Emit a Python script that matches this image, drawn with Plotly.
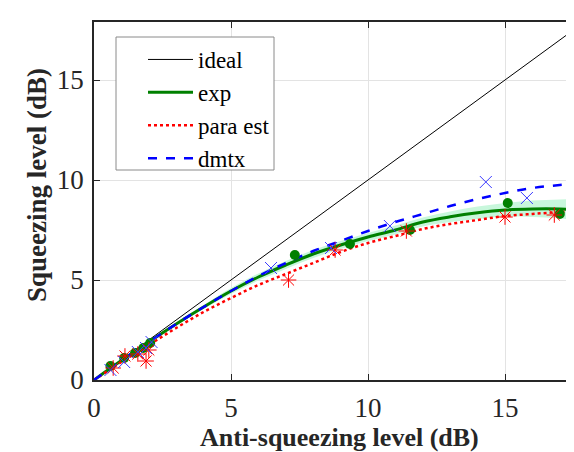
import plotly.graph_objects as go

# ---- data ----
x_curve = [0, 1, 2, 3, 4, 5, 6, 7, 8, 9, 10, 11, 12, 13, 14, 15, 16, 17, 18]
ideal_y = [0, 1, 2, 3, 4, 5, 6, 7, 8, 9, 10, 11, 12, 13, 14, 15, 16, 17, 18]
exp_y = [0, 0.97, 1.9, 2.8, 3.65, 4.45, 5.15, 5.75, 6.3, 6.75, 7.15, 7.5, 7.9, 8.16, 8.36, 8.5, 8.55, 8.55, 8.5]
exp_upper = [0, 1.0, 1.95, 2.88, 3.75, 4.6, 5.33, 5.95, 6.5, 6.95, 7.35, 7.72, 8.12, 8.42, 8.67, 8.85, 8.97, 9.03, 9.05]
exp_lower = [0, 0.94, 1.85, 2.72, 3.55, 4.3, 4.97, 5.55, 6.1, 6.55, 6.95, 7.28, 7.68, 7.9, 8.05, 8.18, 8.15, 8.08, 7.95]
para_y = [0, 0.9, 1.75, 2.6, 3.4, 4.1, 4.75, 5.3, 5.85, 6.4, 6.85, 7.2, 7.55, 7.8, 8.0, 8.2, 8.3, 8.4, 8.45]
dmtx_y = [0, 0.97, 1.9, 2.8, 3.65, 4.45, 5.2, 5.85, 6.45, 6.95, 7.45, 7.9, 8.3, 8.7, 9.05, 9.35, 9.6, 9.75, 9.85]

exp_pts_x = [0.6, 1.1, 1.5, 1.8, 2.05, 7.33, 9.34, 11.53, 15.1, 17.0]
exp_pts_y = [0.7, 1.1, 1.35, 1.6, 1.85, 6.25, 6.8, 7.5, 8.85, 8.3]
para_pts_x = [0.7, 1.13, 1.6, 1.9, 2.0, 7.1, 8.8, 11.4, 15.0, 16.8]
para_pts_y = [0.6, 1.2, 1.3, 0.95, 1.5, 5.0, 6.5, 7.45, 8.15, 8.25]
dmtx_pts_x = [0.6, 1.1, 1.6, 1.9, 2.1, 6.46, 8.65, 10.8, 14.3, 15.8]
dmtx_pts_y = [0.5, 0.9, 1.4, 1.6, 1.9, 5.6, 6.6, 7.7, 9.9, 9.1]

x_ticks = [0, 5, 10, 15]
y_ticks = [0, 5, 10, 15]

GREEN = "#008000"
BAND = "#c8f7dc"
RED = "#ff0000"
BLUE = "#0000ff"
FONT = "Liberation Serif, 'Times New Roman', Times, serif"

fig = go.Figure()

# lines (legend entries, in reference order)
fig.add_trace(go.Scatter(x=x_curve, y=ideal_y, mode="lines", name="ideal",
                         line=dict(color="black", width=1)))

# confidence band for exp
fig.add_trace(go.Scatter(x=x_curve, y=exp_upper, mode="lines", line=dict(width=0), line_shape="spline",
                         showlegend=False, hoverinfo="skip"))
fig.add_trace(go.Scatter(x=x_curve, y=exp_lower, mode="lines", line=dict(width=0), line_shape="spline",
                         fill="tonexty", fillcolor=BAND, showlegend=False, hoverinfo="skip"))

fig.add_trace(go.Scatter(x=x_curve, y=exp_y, mode="lines", name="exp", line_shape="spline",
                         line=dict(color=GREEN, width=3)))
fig.add_trace(go.Scatter(x=x_curve, y=para_y, mode="lines", name="para est", line_shape="spline",
                         line=dict(color=RED, width=2.5, dash="dot")))
fig.add_trace(go.Scatter(x=x_curve, y=dmtx_y, mode="lines", name="dmtx", line_shape="spline",
                         line=dict(color=BLUE, width=2.5, dash="dash")))

# markers
fig.add_trace(go.Scatter(x=exp_pts_x, y=exp_pts_y, mode="markers", showlegend=False,
                         marker=dict(symbol="circle", size=10, color=GREEN)))
fig.add_trace(go.Scatter(x=para_pts_x, y=para_pts_y, mode="markers", showlegend=False,
                         marker=dict(symbol="asterisk-open", size=13, color=RED,
                                     line=dict(width=1, color=RED))))
fig.add_trace(go.Scatter(x=dmtx_pts_x, y=dmtx_pts_y, mode="markers", showlegend=False,
                         marker=dict(symbol="x-thin-open", size=12, color="#3b3bff",
                                     line=dict(width=1, color="#3b3bff"))))

W, H = 574, 452
L, R, T, B = 86, 0, 14, 80
pw, ph = W - L - R, H - T - B


def px(xp):
    return (xp - L) / pw


def py(yp):
    return (H - B - yp) / ph


fig.update_layout(
    width=W, height=H,
    margin=dict(l=L, r=R, t=T, b=B, pad=0),
    paper_bgcolor="white", plot_bgcolor="white",
    font=dict(family=FONT, size=27, color="#262626"),
    showlegend=True,
    legend=dict(x=px(135), y=py(30), xanchor="left", yanchor="top",
                bgcolor="rgba(0,0,0,0)", borderwidth=0, traceorder="normal",
                font=dict(family=FONT, size=23, color="black"),
                itemwidth=45, tracegroupgap=0),
    xaxis=dict(range=[0, pw / 27.4], tickvals=x_ticks, ticktext=[str(v) for v in x_ticks],
               showgrid=True, gridcolor="#e3e3e3", gridwidth=1, zeroline=False,
               showline=True, linecolor="#262626", linewidth=1.5, mirror="ticks",
               ticks="inside", ticklen=6, tickcolor="#262626", tickwidth=1,
               ticklabelstandoff=3, tickfont=dict(family=FONT, size=27, color="#262626")),
    yaxis=dict(range=[0, ph / 20.0], tickvals=y_ticks, ticktext=[str(v) for v in y_ticks],
               showgrid=True, gridcolor="#e3e3e3", gridwidth=1, zeroline=False,
               showline=True, linecolor="#262626", linewidth=1.5, mirror=False,
               ticks="inside", ticklen=6, tickcolor="#262626", tickwidth=1,
               ticklabelstandoff=3, tickfont=dict(family=FONT, size=27, color="#262626")),
    shapes=[dict(type="rect", xref="paper", yref="paper", layer="above",
                 x0=px(108), x1=px(266), y0=py(162), y1=py(29),
                 fillcolor="white", line=dict(color="#8a8a8a", width=1))],
)

fig.add_annotation(text="<b>Anti-squeezing level (dB)</b>", xref="paper", yref="paper",
                   x=px(331), y=py(429), xanchor="center", yanchor="middle",
                   showarrow=False, font=dict(family=FONT, size=26, color="#262626"))
fig.add_annotation(text="<b>Squeezing level (dB)</b>", xref="paper", yref="paper",
                   x=px(29), y=py(177), xanchor="center", yanchor="middle",
                   textangle=-90, showarrow=False, font=dict(family=FONT, size=27, color="#262626"))

fig.write_html("out.html")
